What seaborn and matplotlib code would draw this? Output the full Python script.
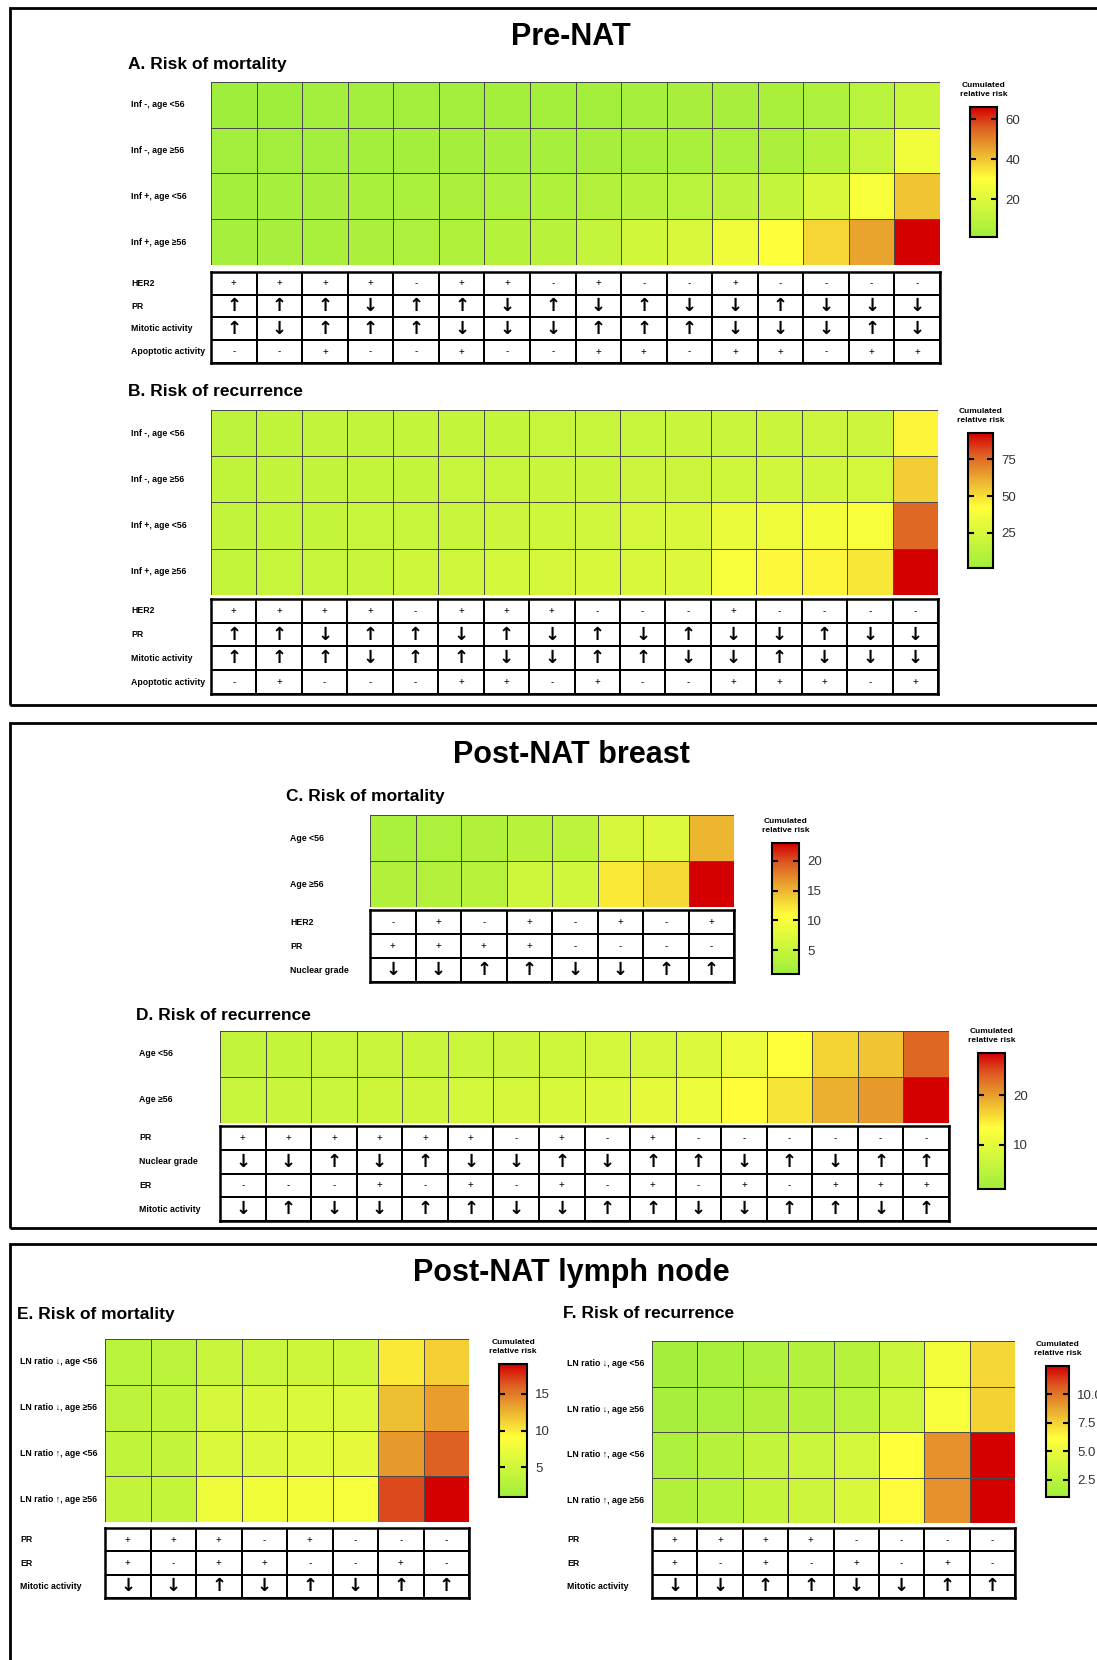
import matplotlib

matplotlib.use('agg')
import matplotlib.pyplot as plt
import numpy as np
import pandas as pd
import seaborn as sns
from matplotlib.colors import LinearSegmentedColormap, ListedColormap
from matplotlib.patches import Rectangle

W, H = 1097, 1660

# row labels
inf_rows = ['Inf -, age <56', 'Inf -, age ≥56', 'Inf +, age <56', 'Inf +, age ≥56']
age_rows = ['Age <56', 'Age ≥56']
ln_rows = ['LN ratio ↓, age <56', 'LN ratio ↓, age ≥56', 'LN ratio ↑, age <56', 'LN ratio ↑, age ≥56']

# A. Pre-NAT mortality
risk_a = [
    [1.0, 1.2, 1.4, 1.5, 1.7, 1.9, 2.1, 2.3, 2.5, 2.8, 3.1, 3.5, 4.0, 5.5, 9.0, 13.0],
    [1.5, 1.8, 2.0, 2.2, 2.4, 2.6, 2.8, 3.0, 3.3, 3.6, 4.0, 4.5, 5.0, 7.5, 13.0, 26.0],
    [2.5, 3.0, 3.5, 4.0, 4.5, 5.0, 5.5, 6.0, 7.0, 8.0, 9.0, 10.0, 12.0, 19.0, 28.0, 40.0],
    [3.0, 3.5, 4.0, 5.0, 5.5, 6.0, 7.5, 8.5, 12.0, 16.0, 19.0, 25.0, 30.0, 37.0, 45.0, 66.0],
]
vmax_a = 66
ticks_a = [20, 40, 60]
rows_tab_a = ['HER2', 'PR', 'Mitotic activity', 'Apoptotic activity']
tab_a = ['++++-++-+--+----', '↑↑↑↓↑↑↓↑↓↑↓↓↑↓↓↓', '↑↓↑↑↑↓↓↓↑↑↑↓↓↓↑↓', '--+--+--++-++-++']

# B. Pre-NAT recurrence
risk_b = [
    [14, 15, 16, 16, 17, 17, 17, 18, 18, 18, 19, 19, 19, 20, 20, 45],
    [15, 16, 16, 17, 17, 18, 18, 19, 19, 20, 20, 21, 22, 22, 23, 54],
    [16, 17, 17, 18, 18, 19, 20, 21, 22, 24, 26, 33, 35, 37, 40, 76],
    [17, 18, 18, 19, 21, 22, 23, 24, 25, 26, 28, 40, 44, 45, 48, 93],
]
vmax_b = 93
ticks_b = [25, 50, 75]
rows_tab_b = ['HER2', 'PR', 'Mitotic activity', 'Apoptotic activity']
tab_b = ['++++-+++---+----', '↑↑↓↑↑↓↑↓↑↓↑↓↓↑↓↓', '↑↑↑↓↑↑↓↓↑↑↓↓↑↓↓↓', '-+---++-+--+++-+']

# C. Post-NAT breast mortality
risk_c = [
    [2.2, 2.5, 2.8, 3.5, 4.0, 6.5, 7.5, 15.0],
    [2.8, 3.0, 3.5, 5.8, 6.0, 12.0, 13.0, 23.0],
]
vmax_c = 23
ticks_c = [5, 10, 15, 20]
rows_tab_c = ['HER2', 'PR', 'Nuclear grade']
tab_c = ['-+-+-+-+', '++++----', '↓↓↑↑↓↓↑↑']

# D. Post-NAT breast recurrence
risk_d = [
    [5.5, 5.8, 6.0, 6.2, 6.4, 6.6, 6.8, 7.0, 7.5, 8.0, 9.0, 11.0, 13.4, 16.5, 17.5, 23.6],
    [6.0, 6.3, 6.6, 6.9, 7.2, 7.5, 7.8, 8.2, 9.0, 10.0, 11.0, 13.6, 15.3, 19.0, 20.3, 28.6],
]
vmax_d = 28.6
ticks_d = [10, 20]
rows_tab_d = ['PR', 'Nuclear grade', 'ER', 'Mitotic activity']
tab_d = ['++++++-+-+------', '↓↓↑↓↑↓↓↑↓↑↑↓↑↓↑↑', '---+-+-+-+-+-+++', '↓↑↓↓↑↑↓↓↑↑↓↓↑↑↓↑']

# E. Post-NAT lymph node mortality
risk_e = [
    [3.2, 3.4, 4.4, 4.6, 4.8, 5.0, 10.0, 11.3],
    [3.6, 3.8, 5.5, 5.7, 6.0, 6.2, 12.0, 13.5],
    [3.8, 4.0, 6.0, 6.3, 6.5, 6.8, 13.6, 16.0],
    [4.0, 4.2, 7.8, 8.0, 8.2, 8.4, 16.8, 19.0],
]
vmax_e = 19
ticks_e = [5, 10, 15]
rows_tab_e = ['PR', 'ER', 'Mitotic activity']
tab_e = ['+++-+---', '+-++--+-', '↓↓↑↓↑↓↑↑']

# F. Post-NAT lymph node recurrence
risk_f = [
    [1.3, 1.5, 1.8, 2.0, 2.2, 3.3, 5.6, 7.3],
    [1.4, 1.6, 1.9, 2.1, 2.4, 3.5, 5.8, 7.5],
    [1.8, 2.2, 2.8, 3.3, 3.8, 6.2, 9.3, 12.5],
    [1.9, 2.3, 3.0, 3.4, 4.0, 6.3, 9.3, 12.5],
]
vmax_f = 12.5
ticks_f = [2.5, 5.0, 7.5, 10.0]
rows_tab_f = ['PR', 'ER', 'Mitotic activity']
tab_f = ['++++----', '+-+-+-+-', '↓↓↑↑↓↓↑↑']

plt.rcParams['font.family'] = ['Liberation Sans', 'DejaVu Sans']

cmap = LinearSegmentedColormap.from_list('risk', [
    (0.0, '#A0EE3C'), (0.45, '#FFFF3A'), (0.65, '#EBB030'), (0.85, '#DD5A22'), (1.0, '#D40000')])


def px_box(x0, y0, x1, y1):
    return [x0 / W, 1 - y1 / H, (x1 - x0) / W, (y1 - y0) / H]


def left_labels(ax, labels, pad, size):
    ax.set_yticklabels(labels, rotation=0, ha='left', fontsize=size, fontweight='bold')
    ax.tick_params(axis='y', length=0, pad=pad)
    ax.tick_params(axis='x', length=0)
    ax.set_xlabel('')
    ax.set_ylabel('')


def draw_panel(fig, risk, rows, vmax, ticks, tab_rows, tab, heat_box, tab_box, cbar_box, label_x,
               title, title_xy, label_size=6.3, tick_fmt='{:g}'):
    heat_ax = fig.add_axes(px_box(*heat_box))
    cax = fig.add_axes(px_box(*cbar_box))
    df = pd.DataFrame(risk, index=rows)
    sns.heatmap(df, ax=heat_ax, cmap=cmap, vmin=1, vmax=vmax, cbar_ax=cax,
                linewidths=0.5, linecolor='#4a4a4a', xticklabels=False, yticklabels=rows)
    pad = (heat_box[0] - label_x) * 0.72
    left_labels(heat_ax, rows, pad, label_size)

    cbar = heat_ax.collections[0].colorbar
    cbar.set_ticks(ticks)
    cbar.set_ticklabels([tick_fmt.format(t) for t in ticks])
    cbar.outline.set_linewidth(1.5)
    cbar.outline.set_edgecolor('black')
    cax.minorticks_off()
    cax.tick_params(direction='in', length=4, width=1.5, left=True, right=True,
                    labelleft=False, labelright=True, labelsize=9.5, pad=6, labelcolor='#333333')
    cax.set_title('Cumulated\nrelative risk', fontsize=6, fontweight='bold', pad=8, linespacing=1.3)

    # feature table under the heatmap
    tab_ax = fig.add_axes(px_box(*tab_box))
    symbols = np.array([list(s) for s in tab])
    sns.heatmap(np.zeros(symbols.shape), ax=tab_ax, cmap=ListedColormap(['white']), cbar=False,
                annot=symbols, fmt='', linewidths=1.1, linecolor='black',
                xticklabels=False, yticklabels=tab_rows, annot_kws={'color': 'black', 'fontsize': 7})
    left_labels(tab_ax, tab_rows, pad, label_size)
    for t in tab_ax.texts:
        if t.get_text() in '↑↓':
            t.set_fontsize(13)
            t.set_fontweight('bold')
            t.set_family('DejaVu Sans')
    for spine in tab_ax.spines.values():
        spine.set_visible(True)
        spine.set_linewidth(1.8)

    fig.text(title_xy[0] / W, 1 - title_xy[1] / H, title, ha='left', va='center',
             fontsize=12.5, fontweight='bold')


fig = plt.figure(figsize=(W / 100, H / 100), dpi=100)

# section frames
for top, bottom in [(8, 705), (723, 1228), (1244, 1700)]:
    fig.add_artist(Rectangle((10 / W, 1 - bottom / H), 1.2, (bottom - top) / H,
                             transform=fig.transFigure, fill=False, lw=2, ec='black'))

for text, y in [('Pre-NAT', 37), ('Post-NAT breast', 755), ('Post-NAT lymph node', 1273)]:
    fig.text(571 / W, 1 - y / H, text, ha='center', va='center', fontsize=22, fontweight='bold')

draw_panel(fig, risk_a, inf_rows, vmax_a, ticks_a, rows_tab_a, tab_a,
           (211, 82, 940, 265), (211, 272, 940, 363), (970, 107, 997, 237), 131,
           'A. Risk of mortality', (128, 65))
draw_panel(fig, risk_b, inf_rows, vmax_b, ticks_b, rows_tab_b, tab_b,
           (211, 410, 938, 595), (211, 599, 938, 694), (968, 433, 993, 568), 131,
           'B. Risk of recurrence', (128, 391))
draw_panel(fig, risk_c, age_rows, vmax_c, ticks_c, rows_tab_c, tab_c,
           (370, 815, 734, 907), (370, 910, 734, 982), (772, 843, 799, 974), 290,
           'C. Risk of mortality', (286, 796))
draw_panel(fig, risk_d, age_rows, vmax_d, ticks_d, rows_tab_d, tab_d,
           (220, 1031, 949, 1123), (220, 1126, 949, 1221), (978, 1053, 1005, 1189), 139,
           'D. Risk of recurrence', (136, 1015))
draw_panel(fig, risk_e, ln_rows, vmax_e, ticks_e, rows_tab_e, tab_e,
           (105, 1339, 469, 1522), (105, 1528, 469, 1598), (499, 1364, 527, 1497), 20,
           'E. Risk of mortality', (17, 1315))
draw_panel(fig, risk_f, ln_rows, vmax_f, ticks_f, rows_tab_f, tab_f,
           (652, 1341, 1015, 1523), (652, 1528, 1015, 1598), (1046, 1366, 1069, 1497), 567,
           'F. Risk of recurrence', (563, 1313), tick_fmt='{:.1f}')

fig.savefig('out.png', dpi=100, facecolor='white')
